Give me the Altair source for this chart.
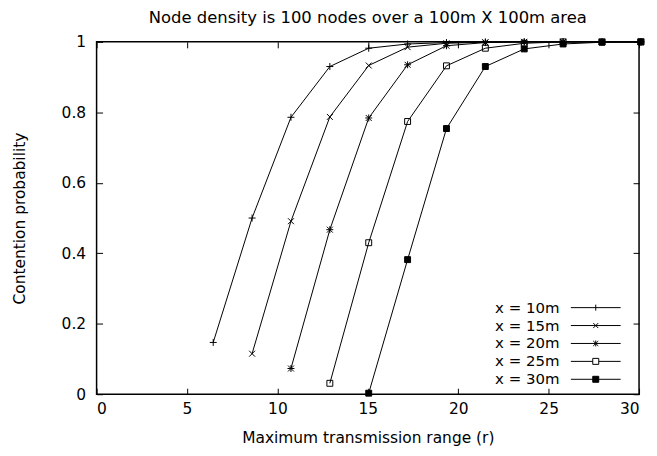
import altair as alt
import pandas as pd

# ---- data ----
x_values = [6.45, 8.6, 10.75, 12.9, 15.05, 17.2, 19.35, 21.5, 23.65, 25.8, 27.95, 30.1]
series_names = ["x = 10m", "x = 15m", "x = 20m", "x = 25m", "x = 30m"]
start_index = [0, 1, 2, 3, 4]
p_10m = [0.147, 0.500, 0.786, 0.930, 0.982, 0.994, 0.998, 1.0, 1.0, 1.0, 1.0, 1.0]
p_15m = [0.115, 0.491, 0.787, 0.933, 0.985, 0.996, 0.999, 1.0, 1.0, 1.0, 1.0]
p_20m = [0.073, 0.467, 0.784, 0.935, 0.989, 0.998, 1.0, 1.0, 1.0, 1.0]
p_25m = [0.031, 0.430, 0.774, 0.932, 0.982, 0.996, 1.0, 1.0, 1.0]
p_30m = [0.003, 0.382, 0.754, 0.930, 0.980, 0.994, 0.999, 1.0]
x_ticks = [0, 5, 10, 15, 20, 25, 30]
y_ticks = [0, 0.2, 0.4, 0.6, 0.8, 1.0]

rows = []
for name, vals, start in zip(series_names, [p_10m, p_15m, p_20m, p_25m, p_30m], start_index):
    for i, v in enumerate(vals):
        rows.append({"series": name, "r": x_values[start + i], "p": v})
df = pd.DataFrame(rows)

FONT = "DejaVu Sans"
FS = 15.5

plus = "M-1,0H1M0,-1V1"
cross = "M-0.85,-0.85L0.85,0.85M-0.85,0.85L0.85,-0.85"
square = "M-0.85,-0.85H0.85V0.85H-0.85Z"
marker_paths = [plus, cross, plus + cross, square, square]
fill_colors = ["transparent", "transparent", "transparent", "transparent", "black"]
stroke_colors = ["black", "black", "black", "black", "black"]

legend_paths = [
    "M-5,0H5M0,-0.6V0.6",
    "M-5,0H5M-0.5,-0.5L0.5,0.5M-0.5,0.5L0.5,-0.5",
    "M-5,0H5M0,-0.6V0.6M-0.5,-0.5L0.5,0.5M-0.5,0.5L0.5,-0.5",
    "M-5,0H-0.6M0.6,0H5M-0.6,-0.6H0.6V0.6H-0.6Z",
    "M-5,0H5M-0.6,-0.6H0.6V0.6H-0.6Z",
]

xscale = alt.Scale(domain=[0, 30], nice=False, zero=False)
yscale = alt.Scale(domain=[0, 1], nice=False, zero=False)

W, H = 545, 354

base = alt.Chart(df)

lines = base.mark_line(color="black", strokeWidth=1).encode(
    x=alt.X("r:Q", scale=xscale,
            axis=alt.Axis(orient="bottom", values=x_ticks, offset=-6, tickSize=6,
                          labelPadding=7, title="Maximum transmission range (r)",
                          titleX=W / 2, titleY=55, titleBaseline="alphabetic",
                          titleFontSize=FS, titleFont=FONT, titleFontWeight="normal")),
    y=alt.Y("p:Q", scale=yscale,
            axis=alt.Axis(orient="left", values=y_ticks, format="~g", offset=-6, tickSize=6,
                          labelPadding=11, title="Contention probability",
                          titleX=-83, titleY=H / 2, titleBaseline="middle", titleAngle=-90,
                          titleFontSize=FS, titleFont=FONT, titleFontWeight="normal")),
    detail="series:N",
)

points = base.mark_point(opacity=1, size=49, strokeWidth=1, stroke="black").encode(
    x=alt.X("r:Q", scale=xscale,
            axis=alt.Axis(orient="top", values=x_ticks, offset=-6, tickSize=6,
                          labels=False, title=None)),
    y=alt.Y("p:Q", scale=yscale,
            axis=alt.Axis(orient="right", values=y_ticks, offset=-6, tickSize=6,
                          labels=False, title=None)),
    shape=alt.Shape("series:N", scale=alt.Scale(domain=series_names, range=marker_paths), legend=None),
    fill=alt.Fill("series:N", scale=alt.Scale(domain=series_names, range=fill_colors), legend=None),
)

leg = alt.Legend(orient="none", legendX=494, legendY=259.5, title=None, padding=0,
                 symbolSize=100, symbolStrokeColor="black", symbolStrokeWidth=1,
                 symbolOpacity=1, symbolOffset=0, labelAlign="right",
                 labelOffset={"expr": "-44"},
                 labelFont=FONT, labelFontSize=15, labelColor="black",
                 rowPadding=2, labelLimit=200)

# legend-only layer: filtered to no rows, its scales carry the legend entries
legend_layer = base.transform_filter(alt.datum.p > 2).mark_point(
    opacity=1, size=49, strokeWidth=1
).encode(
    x=alt.X("r:Q", scale=xscale, axis=None),
    y=alt.Y("p:Q", scale=yscale, axis=None),
    shape=alt.Shape("series:N", scale=alt.Scale(domain=series_names, range=legend_paths), legend=leg),
    fill=alt.Fill("series:N", scale=alt.Scale(domain=series_names, range=fill_colors), legend=leg),
    stroke=alt.Stroke("series:N", scale=alt.Scale(domain=series_names, range=stroke_colors), legend=leg),
)

chart = (
    alt.layer(lines, points, legend_layer)
    .resolve_scale(shape="independent", fill="independent", stroke="independent")
    .resolve_axis(x="independent", y="independent")
    .properties(
        width=W, height=H,
        autosize=alt.AutoSizeParams(type="none"),
        padding={"left": 89, "top": 33, "right": 10, "bottom": 53},
        title=alt.TitleParams("Node density is 100 nodes over a 100m X 100m area",
                              font=FONT, fontSize=16.5, fontWeight="normal", color="black",
                              anchor="middle", offset=8, dy=13, baseline="alphabetic"),
        background="white",
    )
    .configure_view(stroke="black", strokeWidth=1.5)
    .configure_axis(labelFont=FONT, labelFontSize=FS, labelColor="black",
                    tickColor="black", tickWidth=1, grid=False, domain=False,
                    titleColor="black")
)

chart.save("out.html", embed_options={"renderer": "svg", "actions": False})
